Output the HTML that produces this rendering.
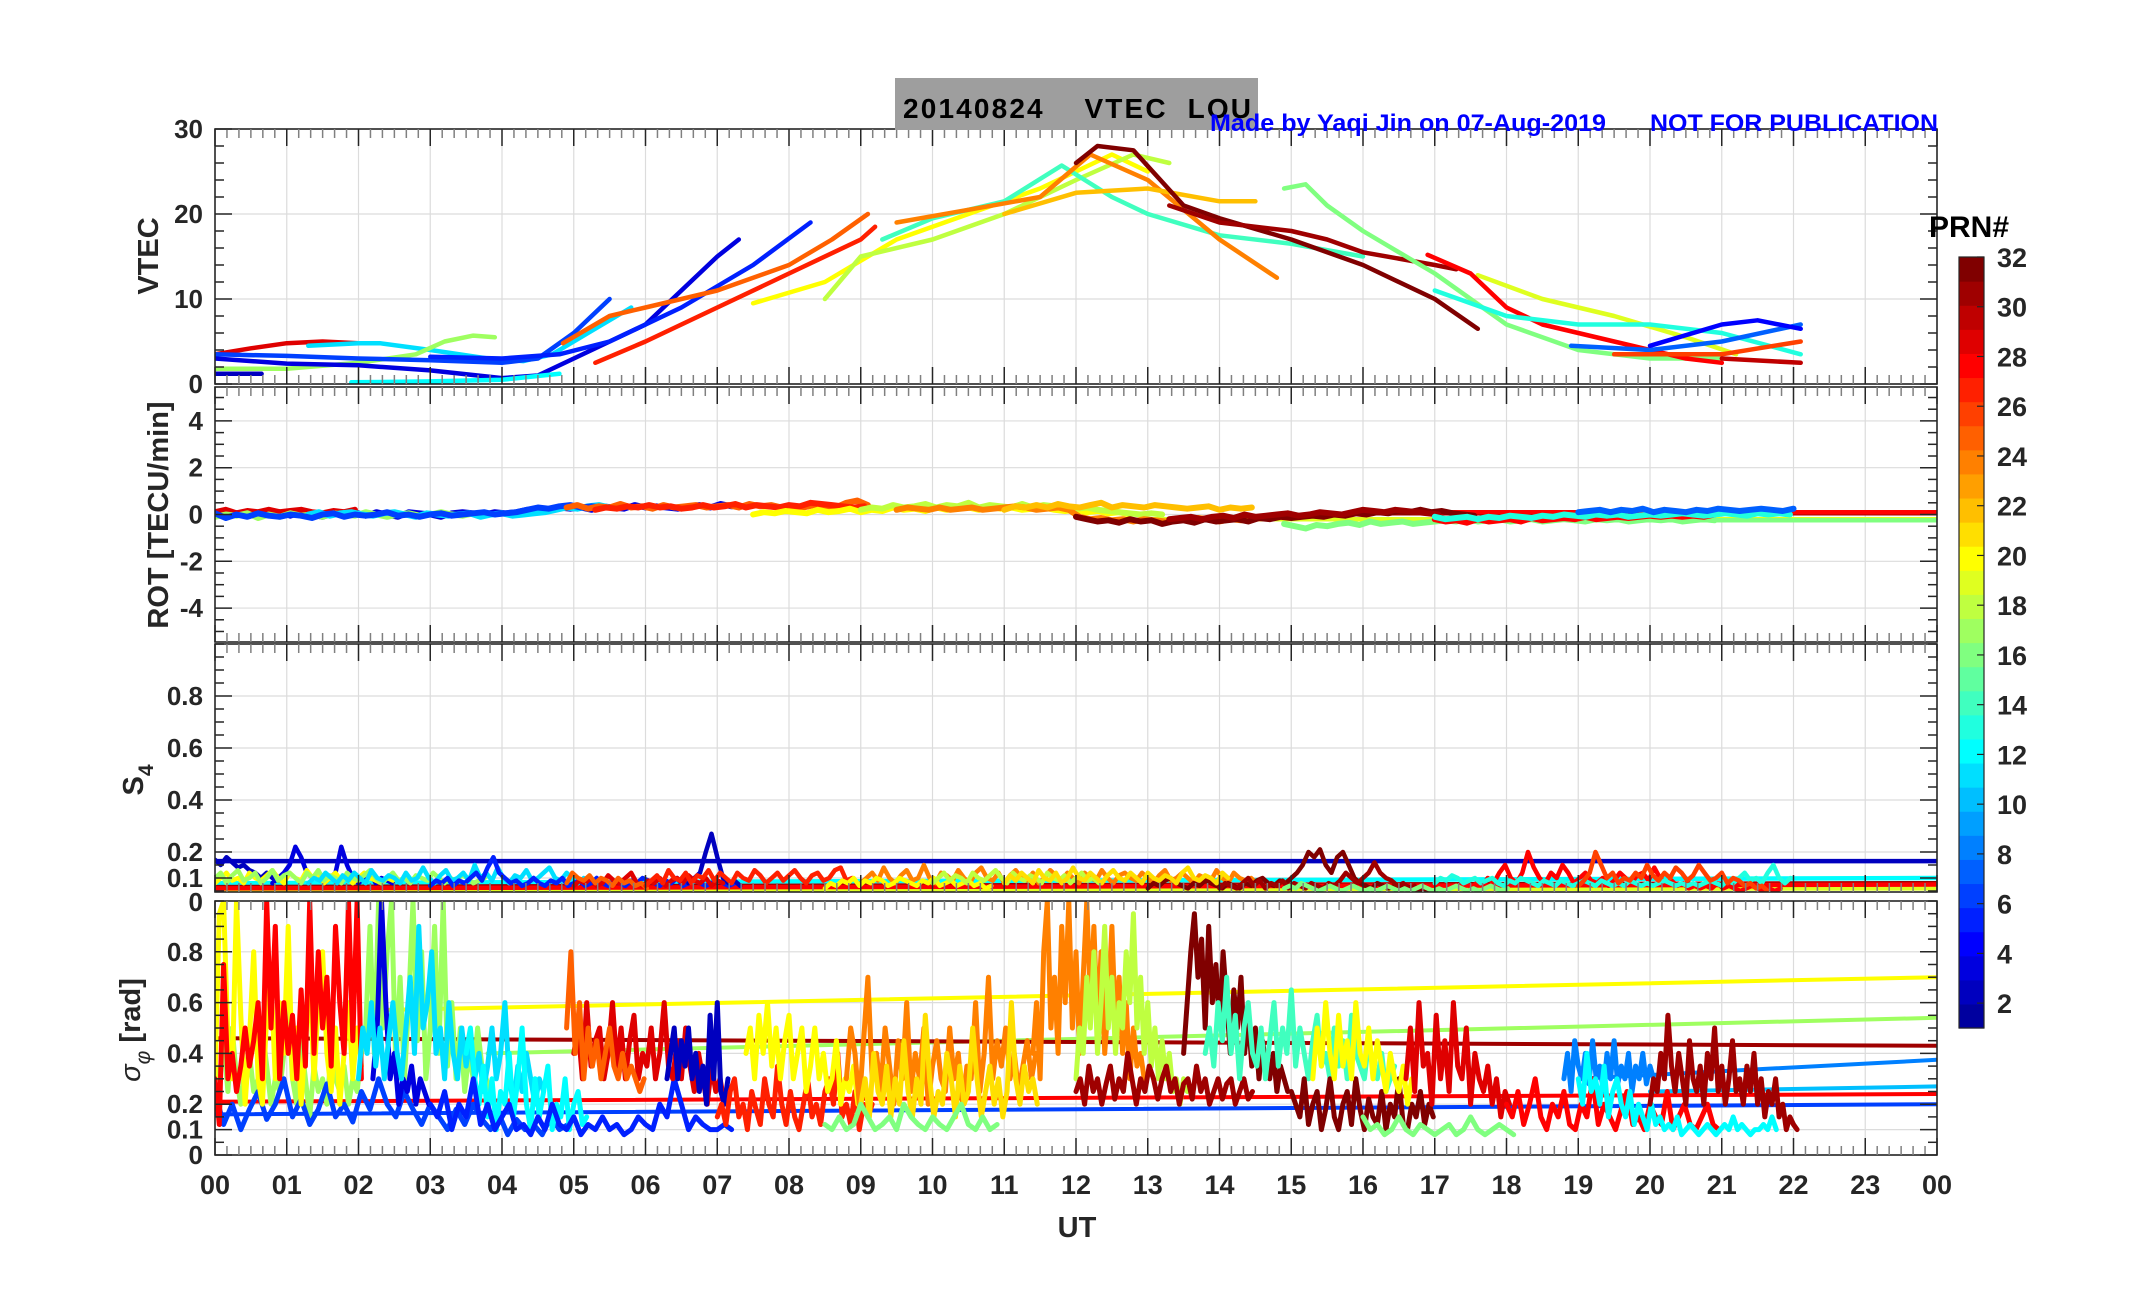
<!DOCTYPE html>
<html><head><meta charset="utf-8"><title>20140824 VTEC LOU</title>
<style>
html,body{margin:0;padding:0;background:#fff;}
svg text{font-family:"Liberation Sans",Arial,sans-serif;font-weight:bold;}
</style></head>
<body>
<svg id="fig" xmlns="http://www.w3.org/2000/svg" width="2153" height="1286" viewBox="0 0 2153 1286">
<rect x="0" y="0" width="2153" height="1286" fill="#fff"/>
<defs>
<clipPath id="c0"><rect x="215" y="129" width="1722" height="255"/></clipPath>
<clipPath id="c1"><rect x="215" y="387" width="1722" height="255"/></clipPath>
<clipPath id="c2"><rect x="215" y="644" width="1722" height="248"/></clipPath>
<clipPath id="c3"><rect x="215" y="901" width="1722" height="254"/></clipPath>
</defs>
<g id="grid"></g>
<g id="marks"></g>
<g id="axes"></g>
<rect x="895" y="78" width="363" height="52" fill="#9e9e9e"/>
<text x="903" y="118" font-size="28" fill="#000" xml:space="preserve" textLength="348" lengthAdjust="spacing">20140824    VTEC  LOU</text>
<text x="1210" y="131" font-size="24" fill="#0000ff" textLength="396" lengthAdjust="spacingAndGlyphs">Made by Yaqi Jin on 07-Aug-2019</text>
<text x="1650" y="131" font-size="24" fill="#0000ff" textLength="288" lengthAdjust="spacingAndGlyphs">NOT FOR PUBLICATION</text>
<text transform="translate(158,256) rotate(-90)" font-size="29" fill="#262626" text-anchor="middle">VTEC</text>
<text transform="translate(168,515) rotate(-90)" font-size="29" fill="#262626" text-anchor="middle">ROT [TECU/min]</text>
<text transform="translate(143,780) rotate(-90)" font-size="29" fill="#262626" text-anchor="middle">S<tspan font-size="21" dy="10">4</tspan></text>
<text transform="translate(140,1030) rotate(-90)" font-size="29" fill="#262626" text-anchor="middle"><tspan font-style="italic" font-weight="normal">σ</tspan><tspan font-size="21" dy="10" font-style="italic" font-weight="normal">φ</tspan><tspan dy="-10"> [rad]</tspan></text>
<text x="1077" y="1237" font-size="29" fill="#262626" text-anchor="middle">UT</text>
<g id="cbar"></g>
<text x="1929" y="237" font-size="30" fill="#000">PRN#</text>
</svg>
<script>
// ---------- DATA ----------
const hourTicks = ["00","01","02","03","04","05","06","07","08","09","10","11","12","13","14","15","16","17","18","19","20","21","22","23","00"];
const vtecTicks = [0,10,20,30];
const rotTicks = [-4,-2,0,2,4];
const s4Ticks = [0,0.1,0.2,0.4,0.6,0.8];
const sigTicks = [0,0.1,0.2,0.4,0.6,0.8];
const prnTicks = [2,4,6,8,10,12,14,16,18,20,22,24,26,28,30,32];

const vtecPRN = [29,11,17,6,3,2,12,5,25,27,20,18,14,24,22,32,31,16,19,28,13,7,4,26,30];
const vtecT = [
 [0,0.5,1,1.5,2,2.1],
 [1.3,2,2.3,3,3.8,4.3,4.7,5.2,5.8],
 [0,1,2,2.8,3.2,3.6,3.9],
 [0,1,2,3,4,4.5,5,5.5],
 [0,1,2,3,4,4.5,5,6,6.5,7,7.3],
 [0,0.65],
 [1.9,3,4,4.8],
 [3,4,4.8,5.5,6.5,7.5,8.3],
 [4.85,5.5,6,7,8,8.6,9.1],
 [5.3,6,7,8,9,9.2],
 [7.5,8.5,9.5,10.5,11.5,12,12.5,13],
 [8.5,9,10,11,12,12.8,13.3],
 [9.3,10,11,11.8,12.5,13,14,15,16],
 [9.5,10.5,11.5,12.2,13,14,14.8],
 [11,12,13,14,14.5],
 [12,12.3,12.8,13.5,14,15,16,17,17.6],
 [13.3,14,15,15.5,16,17,17.3],
 [14.9,15.2,15.5,16,17,18,19,20,21],
 [17.6,18.5,19.5,20.5,21.2],
 [16.9,17.5,18,18.5,19.5,20.5,21],
 [17,18,19,20,21,22.1],
 [18.9,20,21,22.1],
 [20,21,21.5,22.1],
 [19.5,21,22.1],
 [21,22.1]
];
const vtecV = [
 [3.5,4.2,4.8,5,4.8,4.8],
 [4.5,4.8,4.8,4,3,2.7,3.5,6,9],
 [1.8,1.8,2.5,3.5,5,5.7,5.5],
 [3.5,3.3,3,2.8,2.5,3,6,10],
 [3,2.4,2.2,1.6,0.7,1,3,7,11,15,17],
 [1.2,1.2],
 [0.2,0.3,0.5,1.2],
 [3.2,3,3.5,5,9,14,19],
 [4.8,8,9,11,14,17,20],
 [2.5,5,9,13,17,18.5],
 [9.5,12,17,20,23,25,27,25],
 [10,15,17,20,24,27,26],
 [17,19.5,21.5,25.7,22,20,17.5,16.5,15],
 [19,20.5,22,27,24,17,12.5],
 [20,22.5,23,21.5,21.5],
 [26,28,27.5,21,19.5,17,14,10,6.5],
 [21,19,18,17,15.5,14,13.5],
 [23,23.5,21,18,13,7,4,3,3],
 [12.8,10,8,5.5,3.5],
 [15.2,13,9,7,5,3,2.5],
 [11,8,7,7,6,3.5],
 [4.5,4,5,7],
 [4.5,7,7.5,6.5],
 [3.5,3.5,5],
 [3,2.5]
];

const rotPRN = [3,29,17,11,6,25,27,20,18,24,32,31,16,28,13,7,22];
const rotT0 = [0,0,0,1.3,0,4.9,5.3,7.5,9,9.5,12,13.3,14.9,17,17,19,11];
const rotDt = [0.15,0.15,0.15,0.15,0.15,0.15,0.15,0.15,0.15,0.15,0.15,0.15,0.15,0.15,0.15,0.15,0.15];
const rotV = [
 [0.1,-0.1,0.05,0.1,-0.1,0,0.1,-0.05,0.1,0,-0.1,0.05,0,0.1,-0.05,0.1,0,-0.1,0.1,0.05,0,-0.1,0.05,0.1,0.05,0,0.1,0.05,0.1,0.2,0.15,0.2,0.3,0.25,0.3,0.2,0.35,0.3,0.25,0.4,0.3,0.35,0.3,0.25,0.35,0.4,0.3,0.45,0.35],
 [0.1,0.2,0.05,0.15,0.1,0.2,0.1,0.15,0.2,0.1,0.05,0.15,0.1,0.2],
 [-0.1,0,-0.05,0.05,-0.15,0,-0.1,0.05,-0.05,0,-0.1,0.05,0,-0.05,0.1,0,-0.1,0,0.05,-0.05,0,0.1,0,-0.05,0.05,0],
 [0,0.1,-0.05,0.05,0.1,0,-0.05,0.05,0.1,0,-0.1,0.05,0,-0.05,0,0.05,-0.1,0,0.05,-0.05,0,0.05,0.1,0.2,0.3,0.25,0.35,0.4,0.3,0.35],
 [0.05,-0.15,0,-0.1,0.05,-0.05,-0.1,0,-0.05,-0.15,0,0.05,-0.1,0,-0.05,0,0.1,-0.05,0,-0.1,0,0.05,-0.05,0,0.05,0.1,0,0.05,0.1,0.2,0.3,0.25,0.35,0.4,0.3,0.35,0.3],
 [0.3,0.4,0.25,0.35,0.3,0.45,0.3,0.35,0.25,0.4,0.3,0.35,0.4,0.3,0.35,0.4,0.3,0.45,0.35,0.4,0.3,0.35,0.3,0.4,0.35,0.3,0.5,0.6,0.4],
 [0.2,0.3,0.25,0.35,0.3,0.4,0.3,0.35,0.25,0.3,0.4,0.3,0.35,0.45,0.3,0.4,0.35,0.3,0.4,0.35,0.5,0.45,0.4,0.35,0.3,0.35],
 [0,0.1,0.05,0.15,0.1,0.05,0.2,0.1,0.15,0.25,0.1,0.2,0.15,0.3,0.2,0.25,0.15,0.3,0.2,0.25,0.3,0.2,0.35,0.25,0.3,0.2,0.25,0.3,0.2,0.15,0.2,0.1,0.15,0.05,0.1,0],
 [0.2,0.3,0.25,0.4,0.3,0.35,0.45,0.3,0.4,0.35,0.5,0.3,0.4,0.35,0.3,0.45,0.3,0.4,0.35,0.3,0.25,0.3,0.2,0.15,0.1,0.05,0,0.05,0],
 [0.2,0.3,0.25,0.2,0.3,0.2,0.25,0.3,0.2,0.25,0.3,0.35,0.3,0.2,0.25,0.3,0.2,-0.1,-0.2,-0.15,-0.25,-0.2,-0.3,-0.2,-0.25,-0.3,-0.2,-0.25,-0.15,-0.2,-0.3,-0.2,-0.25,-0.2,-0.15],
 [-0.1,-0.2,-0.3,-0.25,-0.35,-0.2,-0.3,-0.25,-0.4,-0.3,-0.25,-0.35,-0.2,-0.3,-0.25,-0.2,-0.3,-0.15,-0.2,-0.1,-0.15,-0.1,-0.05,-0.1,0,-0.05,0.05,0,0.1,0.05,0.15,0.1,0.2,0.1,0.15,0.05,0,-0.05],
 [-0.2,-0.15,-0.1,-0.2,-0.1,-0.05,-0.15,0,-0.1,-0.05,0,0.05,-0.05,0,0.1,0.05,0,0.1,0.2,0.15,0.1,0.2,0.15,0.1,0.05,0],
 [-0.4,-0.5,-0.6,-0.45,-0.5,-0.4,-0.35,-0.45,-0.3,-0.4,-0.35,-0.3,-0.4,-0.35,-0.3,-0.25,-0.3,-0.2,-0.3,-0.25,-0.2,-0.3,-0.25,-0.2,-0.3,-0.25,-0.2,-0.25,-0.3,-0.2,-0.25,-0.2,-0.3,-0.25,-0.2,-0.25,-0.2,-0.3,-0.25,-0.2,-0.25],
 [-0.2,-0.3,-0.25,-0.35,-0.2,-0.3,-0.25,-0.2,-0.3,-0.15,-0.25,-0.2,-0.15,-0.2,-0.1,-0.2,-0.15,-0.1,-0.15,-0.1,-0.05,-0.1,-0.05,-0.1,-0.05,-0.1,0],
 [-0.1,-0.2,-0.15,-0.1,-0.2,-0.1,-0.15,-0.05,-0.1,-0.15,-0.05,-0.1,0,-0.05,-0.1,0,-0.05,0,-0.1,-0.05,0,-0.05,0,0.05,0,-0.05,0,0.05,0,-0.05,0.05,0,0.05,0],
 [0.1,0.15,0.2,0.1,0.2,0.15,0.25,0.1,0.2,0.15,0.1,0.2,0.15,0.25,0.2,0.15,0.2,0.25,0.2,0.15,0.25],
 [0.2,0.35,0.3,0.4,0.3,0.45,0.35,0.3,0.4,0.5,0.3,0.4,0.35,0.3,0.4,0.35,0.3,0.25,0.3,0.35,0.2,0.3,0.25,0.3]
];
const rotLinePRN = [31,28,19,16];
const rotLineT0 = [16,17,13,19];
const rotLineV0 = [0.05,0.1,-0.2,-0.25];
const rotLineT1 = [24,24,24,24];
const rotLineV1 = [0.05,0.1,-0.2,-0.25];

const s4PRN = [2,3,20,17,11,5,2,29,25,27,24,20,18,32,31,28,16,13,26,21];
const s4T0 = [0,0.8,0,0,1.3,3,6.6,5,4.9,6,9,8.5,10,13,14,17.5,14.9,17,19,11];
const s4Dt = [0.08,0.08,0.08,0.08,0.08,0.08,0.08,0.08,0.08,0.08,0.08,0.08,0.08,0.08,0.08,0.08,0.08,0.08,0.08,0.08];
const s4V = [
 [0.17,0.15,0.18,0.16,0.14,0.15,0.13,0.12,0.1,0.12,0.1,0.09],
 [0.08,0.1,0.12,0.15,0.22,0.18,0.12,0.1,0.12,0.08,0.1,0.12,0.22,0.15,0.1,0.08,0.1,0.12,0.08,0.1,0.09,0.08],
 [0.08,0.1,0.12,0.09,0.1,0.08,0.12,0.1,0.09,0.11,0.13,0.1,0.08,0.12,0.1,0.09,0.13,0.1,0.12,0.08,0.1,0.12,0.09,0.1,0.08,0.1,0.12,0.1,0.09,0.08,0.1,0.09],
 [0.1,0.12,0.08,0.11,0.13,0.09,0.1,0.12,0.08,0.1,0.13,0.09,0.11,0.12,0.1,0.08,0.12,0.1,0.13,0.09,0.11,0.1,0.08,0.12,0.1,0.09,0.11,0.13,0.1,0.08,0.1,0.12,0.09,0.1,0.08,0.11,0.1,0.09,0.12,0.1,0.08,0.1,0.09,0.11,0.1,0.08,0.09,0.1],
 [0.08,0.1,0.09,0.12,0.1,0.08,0.11,0.09,0.12,0.1,0.08,0.13,0.1,0.09,0.11,0.1,0.08,0.12,0.09,0.1,0.14,0.1,0.08,0.11,0.13,0.09,0.1,0.12,0.09,0.15,0.1,0.12,0.09,0.14,0.1,0.08,0.11,0.1,0.13,0.09,0.1,0.12,0.14,0.1,0.09,0.12,0.1,0.08,0.1,0.09],
 [0.07,0.09,0.08,0.1,0.07,0.09,0.08,0.1,0.12,0.09,0.14,0.18,0.12,0.1,0.08,0.09,0.07,0.08,0.1,0.08,0.07,0.09,0.08,0.1,0.07,0.08,0.09,0.07,0.08,0.1,0.08,0.07,0.09,0.08,0.07,0.09,0.08,0.1,0.09,0.08,0.07,0.09,0.08,0.1,0.07,0.08,0.09,0.08,0.07,0.08,0.09,0.08,0.07,0.08],
 [0.08,0.1,0.12,0.2,0.27,0.18,0.1,0.08,0.09,0.07],
 [0.07,0.09,0.08,0.1,0.07,0.08,0.11,0.09,0.08,0.1,0.12,0.08,0.07,0.09,0.08,0.1,0.07,0.09,0.1,0.08,0.11,0.09,0.08,0.1,0.07,0.09,0.08],
 [0.08,0.12,0.1,0.09,0.11,0.08,0.1,0.09,0.07,0.1,0.08,0.09,0.07,0.08,0.06],
 [0.07,0.09,0.11,0.08,0.13,0.1,0.09,0.12,0.08,0.11,0.1,0.13,0.09,0.12,0.1,0.08,0.12,0.1,0.09,0.13,0.11,0.08,0.1,0.12,0.09,0.11,0.13,0.1,0.08,0.11,0.12,0.09,0.1,0.13,0.14,0.09,0.1],
 [0.08,0.1,0.12,0.09,0.14,0.1,0.08,0.11,0.13,0.09,0.1,0.15,0.1,0.08,0.12,0.11,0.09,0.13,0.1,0.08,0.12,0.14,0.1,0.09,0.12,0.08,0.11,0.13,0.1,0.09,0.12,0.08,0.1,0.13,0.11,0.09,0.12,0.1,0.08,0.12,0.1,0.09,0.13,0.1,0.08,0.11,0.12,0.1,0.09,0.12,0.1,0.08,0.11,0.13,0.09,0.1,0.12,0.1,0.08,0.11,0.1,0.09,0.13,0.1,0.08,0.12,0.1,0.09,0.1,0.08],
 [0.06,0.08,0.07,0.09,0.08,0.1,0.07,0.09,0.08,0.1,0.09,0.07,0.08,0.1,0.09,0.08,0.07,0.09,0.08,0.1,0.07,0.08,0.09,0.07,0.08,0.09,0.07,0.08,0.06,0.07],
 [0.08,0.1,0.12,0.09,0.11,0.1,0.08,0.12,0.1,0.09,0.11,0.13,0.1,0.08,0.12,0.1,0.09,0.11,0.1,0.08,0.12,0.1,0.09,0.11,0.08,0.1,0.12,0.09,0.1,0.08],
 [0.06,0.08,0.07,0.09,0.1,0.08,0.07,0.06,0.08,0.07,0.09,0.08,0.07,0.06,0.08,0.07,0.06,0.08,0.07,0.09,0.1,0.08,0.07,0.09,0.08,0.1,0.12,0.15,0.2,0.18,0.21,0.15,0.12,0.18,0.2,0.15,0.1,0.08,0.07,0.06,0.08,0.07,0.06,0.07,0.06,0.07,0.06,0.05,0.06,0.05],
 [0.06,0.08,0.07,0.06,0.08,0.1,0.07,0.09,0.06,0.08,0.07,0.09,0.06,0.08,0.07,0.06,0.08,0.07,0.06,0.08,0.07,0.09,0.12,0.1,0.08,0.1,0.12,0.16,0.12,0.1,0.09,0.07,0.08,0.06,0.07],
 [0.06,0.08,0.07,0.1,0.08,0.12,0.15,0.1,0.08,0.12,0.2,0.14,0.1,0.08,0.12,0.1,0.15,0.12,0.08,0.1,0.12,0.09,0.08,0.1,0.07,0.09,0.12,0.1,0.08,0.11,0.12,0.09,0.14,0.1,0.08,0.09,0.07,0.08,0.06,0.07,0.06,0.07,0.06,0.08,0.06,0.07,0.06,0.05,0.06,0.07,0.06,0.05,0.06,0.05,0.06],
 [0.06,0.07,0.06,0.08,0.07,0.06,0.05,0.06,0.07,0.06,0.05,0.06,0.07,0.06,0.05,0.06,0.05,0.06,0.07,0.06,0.05,0.06,0.05,0.06,0.07,0.06,0.05,0.06,0.05,0.06,0.07,0.06,0.05,0.06,0.05,0.06,0.07,0.06,0.05,0.06],
 [0.08,0.1,0.09,0.11,0.1,0.08,0.09,0.1,0.08,0.09,0.1,0.08,0.07,0.09,0.08,0.1,0.09,0.08,0.07,0.09,0.08,0.07,0.09,0.08,0.07,0.08,0.09,0.08,0.07,0.09,0.08,0.07,0.08,0.07,0.09,0.08,0.07,0.08,0.07,0.08,0.09,0.08,0.07,0.08,0.07,0.08,0.07,0.08,0.09,0.08,0.07,0.09,0.08,0.1,0.12,0.09,0.1,0.08,0.12,0.15,0.1,0.08,0.1],
 [0.07,0.09,0.12,0.2,0.15,0.1,0.12,0.08,0.1,0.09,0.12,0.1,0.15,0.11,0.09,0.12,0.1,0.14,0.12,0.09,0.11,0.15,0.12,0.09,0.1,0.12,0.08,0.1,0.09,0.07,0.08,0.06,0.07,0.05],
 [0.08,0.11,0.09,0.12,0.1,0.08,0.13,0.1,0.09,0.12,0.08,0.1,0.14,0.1,0.09,0.12,0.1,0.08,0.11,0.13,0.1,0.09,0.12,0.1,0.08,0.12,0.1,0.09,0.11,0.1,0.08,0.12,0.14,0.1,0.09,0.11,0.1,0.08,0.12,0.1]
];
const s4LinePRN = [2,12,19,31,28];
const s4LineT0 = [0,0,0,0,0];
const s4LineV0 = [0.165,0.08,0.055,0.065,0.06];
const s4LineT1 = [24,24,24,24,24];
const s4LineV1 = [0.165,0.1,0.06,0.08,0.075];

const sigPRN = [17,6,20,28,3,11,12,5,29,25,2,27,20,24,21,16,24,18,31,32,14,32,20,16,29,28,8,12,31];
const sigT0 = [0,0,0,0,2.2,2.0,3.5,3.0,5.0,4.9,6.3,7.0,7.4,8.8,9.0,8.5,11.4,12.0,12.0,13.5,13.8,15.0,15.3,16.0,16.6,18.0,18.8,19.0,20.0];
const sigDt = [0.06,0.12,0.06,0.06,0.06,0.06,0.06,0.1,0.06,0.06,0.05,0.06,0.06,0.06,0.06,0.1,0.05,0.05,0.06,0.05,0.06,0.06,0.06,0.1,0.06,0.08,0.05,0.06,0.05];
const sigV = [
 [0.35,0.3,0.45,0.25,0.5,0.3,0.2,0.35,0.4,0.25,0.3,0.5,0.35,0.2,0.3,0.25,0.4,0.6,0.3,0.2,0.45,0.3,0.15,0.35,0.25,0.3,0.2,0.4,0.3,0.25,0.35,0.2,0.3,0.25,0.4,0.5,0.9,0.4,1,0.5,0.8,1,0.35,0.7,0.3,0.6,1,0.45,0.8,0.3,0.5,0.9,0.4,1,0.35,0.6,0.3,0.5,0.25,0.4,0.3,0.5,0.35,0.3,0.25],
 [0.25,0.12,0.2,0.1,0.18,0.25,0.14,0.2,0.3,0.15,0.22,0.12,0.18,0.28,0.15,0.2,0.13,0.25,0.18,0.3,0.2,0.15,0.25,0.18,0.12,0.2,0.15,0.1,0.18,0.12,0.2,0.14,0.1,0.16,0.08,0.14,0.1,0.12,0.08,0.15,0.1,0.12],
 [0.3,0.95,1,0.45,0.3,1,0.55,0.2,0.45,0.8,0.3,0.2,0.55,0.7,0.3,0.6,0.4,0.9,0.3,0.5,0.2,0.45,0.7,0.3,0.6,0.8,0.4,0.25,0.5,0.2,0.4,0.6,0.3,0.5,0.35],
 [0.3,0.12,0.75,0.3,0.4,0.25,0.35,0.5,0.35,0.45,0.6,0.3,1,0.5,0.9,0.3,0.6,0.4,0.55,0.3,0.65,0.35,1,0.4,0.8,0.5,0.7,0.35,0.9,0.6,0.4,1,0.45,1,0.3],
 [0.3,0.5,1,0.6,0.3,0.4,0.2,0.3,0.25,0.35,0.2,0.3,0.25,0.2],
 [0.3,0.5,0.4,0.6,0.35,0.5,0.3,0.45,0.6,0.4,0.3,0.5,0.7,0.4,0.9,0.5,0.6,0.8,0.4,0.5,0.3,0.6,0.4,0.3,0.5,0.35,0.45,0.3,0.4,0.25,0.35,0.5,0.3,0.4,0.6,0.3,0.2,0.35,0.25,0.4,0.3,0.2,0.3,0.25],
 [0.4,0.5,0.3,0.2,0.35,0.15,0.3,0.1,0.25,0.2,0.4,0.15,0.3,0.5,0.2,0.1,0.3,0.15,0.25,0.35,0.1,0.2,0.15,0.3,0.1,0.2,0.25,0.12,0.15],
 [0.2,0.15,0.25,0.1,0.2,0.15,0.3,0.12,0.2,0.1,0.15,0.2,0.1,0.12,0.08,0.15,0.1,0.2,0.12,0.1,0.15,0.08,0.12,0.1,0.15,0.1,0.12,0.08,0.1,0.15,0.12,0.1,0.2,0.15,0.3,0.2,0.1,0.15,0.12,0.1,0.1,0.12,0.1],
 [0.4,0.5,0.3,0.6,0.35,0.45,0.5,0.3,0.4,0.6,0.35,0.5,0.3,0.45,0.55,0.3,0.4,0.35,0.5,0.3,0.4,0.6,0.35,0.3,0.45,0.3,0.5,0.35,0.25,0.4,0.3,0.2,0.35,0.25,0.3,0.2,0.25],
 [0.5,0.8,0.4,0.6,0.3,0.5,0.35,0.45,0.3,0.4,0.5,0.35,0.3,0.4,0.3,0.35,0.3,0.25,0.3],
 [0.3,0.4,0.5,0.3,0.45,0.35,0.5,0.3,0.4,0.25,0.35,0.2,0.55,0.3,0.6,0.25,0.2,0.3],
 [0.15,0.2,0.12,0.25,0.3,0.15,0.2,0.1,0.25,0.18,0.12,0.3,0.2,0.15,0.35,0.2,0.12,0.25,0.15,0.1,0.2,0.3,0.15,0.2,0.12,0.25,0.3,0.2,0.4,0.15,0.2,0.12,0.25,0.1,0.2,0.15,0.2],
 [0.4,0.5,0.3,0.55,0.4,0.6,0.35,0.5,0.3,0.45,0.55,0.3,0.4,0.5,0.25,0.35,0.5,0.3,0.4,0.25,0.3,0.45,0.2,0.3,0.25,0.35,0.2],
 [0.3,0.5,0.4,0.2,0.45,0.7,0.3,0.4,0.25,0.5,0.35,0.2,0.45,0.3,0.6,0.25,0.4,0.3,0.5,0.2,0.35,0.45,0.3,0.25,0.5,0.3,0.4,0.2,0.35,0.3,0.6,0.25,0.4,0.7,0.3,0.45,0.35,0.5,0.3,0.4,0.25,0.35,0.45,0.3,0.4],
 [0.2,0.3,0.15,0.4,0.25,0.2,0.35,0.15,0.3,0.2,0.45,0.25,0.15,0.3,0.2,0.55,0.3,0.15,0.25,0.2,0.4,0.3,0.15,0.35,0.2,0.25,0.5,0.3,0.15,0.25,0.35,0.2,0.3,0.15,0.25,0.6,0.3,0.2,0.35,0.25,0.3,0.2],
 [0.12,0.1,0.15,0.1,0.12,0.2,0.15,0.1,0.12,0.15,0.1,0.2,0.15,0.12,0.1,0.15,0.12,0.1,0.15,0.2,0.12,0.1,0.15,0.1,0.12],
 [0.4,0.6,0.3,0.8,1,0.5,0.7,0.4,0.9,0.6,1,0.5,0.8,0.4,0.7,1,0.6,0.9,0.5,0.8,0.4,0.6,0.9,0.5,0.7,0.4,0.6,0.3,0.5,0.35,0.4,0.3],
 [0.3,0.5,0.4,0.7,0.5,0.8,0.4,0.6,0.9,0.5,0.7,0.4,0.6,0.5,0.8,0.6,0.95,0.5,0.7,0.4,0.6,0.35,0.5,0.3,0.45,0.3,0.4,0.25,0.3,0.2,0.3,0.25],
 [0.25,0.3,0.2,0.35,0.25,0.3,0.2,0.28,0.35,0.22,0.3,0.25,0.4,0.3,0.2,0.3,0.25,0.35,0.3,0.22,0.3,0.35,0.25,0.3,0.2,0.28,0.3,0.22,0.35,0.25,0.3,0.2,0.25,0.3,0.22,0.28,0.3,0.2,0.25,0.3,0.22,0.25],
 [0.4,0.6,0.8,0.95,0.7,0.85,0.5,0.9,0.6,0.75,0.5,0.8,0.6,0.4,0.65,0.5,0.7,0.4,0.55,0.35,0.5,0.3,0.45,0.35,0.3,0.4,0.25,0.35,0.3,0.25],
 [0.4,0.5,0.35,0.6,0.45,0.7,0.4,0.55,0.3,0.5,0.6,0.4,0.35,0.5,0.3,0.45,0.6,0.35,0.5,0.4,0.65,0.35,0.5,0.4,0.3,0.45,0.55,0.35,0.4,0.3,0.5,0.35,0.45,0.3,0.55,0.4,0.35,0.3,0.45,0.35,0.3,0.4,0.25,0.3,0.35],
 [0.25,0.2,0.15,0.3,0.12,0.2,0.25,0.1,0.18,0.3,0.15,0.1,0.2,0.25,0.12,0.3,0.18,0.1,0.22,0.15,0.12,0.25,0.1,0.2,0.15,0.3,0.12,0.1,0.2,0.15,0.25,0.12,0.2,0.15],
 [0.3,0.5,0.35,0.6,0.4,0.3,0.55,0.35,0.45,0.3,0.6,0.4,0.35,0.5,0.3,0.45,0.35,0.25,0.4,0.3,0.25,0.35,0.2,0.3],
 [0.15,0.1,0.12,0.08,0.1,0.15,0.1,0.08,0.12,0.1,0.08,0.1,0.12,0.08,0.1,0.15,0.1,0.08,0.1,0.12,0.1,0.08],
 [0.3,0.5,0.25,0.6,0.35,0.4,0.2,0.55,0.3,0.45,0.25,0.6,0.35,0.3,0.5,0.2,0.4,0.3,0.25,0.35,0.2,0.3,0.15,0.25,0.2],
 [0.2,0.15,0.25,0.12,0.2,0.3,0.15,0.1,0.2,0.15,0.25,0.12,0.1,0.2,0.15,0.3,0.12,0.2,0.15,0.1,0.18,0.25,0.12,0.15,0.1,0.2,0.15,0.12,0.25,0.1,0.15,0.2,0.12,0.1,0.15,0.2,0.12,0.1],
 [0.3,0.4,0.25,0.45,0.35,0.3,0.4,0.28,0.45,0.3,0.35,0.25,0.4,0.3,0.45,0.28,0.35,0.3,0.4,0.25,0.35,0.3,0.4,0.28,0.35,0.3],
 [0.3,0.2,0.4,0.25,0.3,0.2,0.35,0.15,0.25,0.3,0.2,0.15,0.25,0.12,0.2,0.15,0.1,0.2,0.12,0.15,0.1,0.12,0.1,0.15,0.08,0.1,0.12,0.1,0.08,0.1,0.12,0.1,0.08,0.1,0.12,0.1,0.15,0.1,0.12,0.1,0.08,0.1,0.1,0.12,0.1,0.15,0.1],
 [0.2,0.3,0.25,0.4,0.3,0.55,0.35,0.25,0.4,0.3,0.2,0.45,0.3,0.25,0.35,0.2,0.4,0.3,0.5,0.25,0.35,0.2,0.3,0.45,0.25,0.3,0.2,0.35,0.25,0.4,0.2,0.3,0.15,0.25,0.2,0.3,0.15,0.2,0.1,0.15,0.12,0.1]
];
const sigLinePRN = [20,17,31,28,6,8,10];
const sigLineT0 = [2.2,3.8,0,0,0,19,20];
const sigLineV0 = [0.57,0.40,0.46,0.21,0.16,0.30,0.25];
const sigLineT1 = [24,24,24,24,24,24,24];
const sigLineV1 = [0.70,0.54,0.43,0.24,0.20,0.375,0.27];

// ---------- RENDERING ----------
const NS = "http://www.w3.org/2000/svg";
const X0 = 215, X1 = 1937;
function xs(h){ return X0 + h*(X1-X0)/24; }
const panels = [
 {top:129,bottom:384,min:0,max:30,clip:"c0"},
 {top:387,bottom:642,min:-5.45,max:5.45,clip:"c1"},
 {top:644,bottom:892,min:0.04615,max:1,clip:"c2"},
 {top:901,bottom:1155,min:0,max:1,clip:"c3"}
];
function ys(p,v){ return p.bottom-(v-p.min)/(p.max-p.min)*(p.bottom-p.top); }

function jet(m){
  const n=Math.ceil(m/4), u=[];
  for(let i=1;i<=n;i++) u.push(i/n);
  for(let i=0;i<n-1;i++) u.push(1);
  for(let i=n;i>=1;i--) u.push(i/n);
  const g0=Math.ceil(n/2)-(m%4===1?1:0);
  const R=new Array(m).fill(0),G=new Array(m).fill(0),B=new Array(m).fill(0);
  for(let k=0;k<u.length;k++){
    const gi=g0+k+1, ri=gi+n, bi=gi-n;
    if(gi>=1&&gi<=m) G[gi-1]=u[k];
    if(ri>=1&&ri<=m) R[ri-1]=u[k];
    if(bi>=1&&bi<=m) B[bi-1]=u[k];
  }
  const out=[];
  for(let i=0;i<m;i++) out.push(`rgb(${Math.round(R[i]*255)},${Math.round(G[i]*255)},${Math.round(B[i]*255)})`);
  return out;
}
const cmap = jet(32);
function col(prn){ return cmap[Math.max(1,Math.min(32,prn))-1]; }

const gGrid=document.getElementById('grid'), gMarks=document.getElementById('marks'), gAxes=document.getElementById('axes'), gCb=document.getElementById('cbar');
function mk(tag,attrs,parent){ const e=document.createElementNS(NS,tag); for(const k in attrs) e.setAttribute(k,attrs[k]); parent.appendChild(e); return e; }

const panelNames=['vtec','rot','s4','sigma-phi'];
const panelTicks=[vtecTicks,rotTicks,s4Ticks,sigTicks];
const panelMinor=[2,0.5,0.05,0.05];

panels.forEach((p,pi)=>{
  for(let h=1;h<24;h++){
    const l=mk('line',{x1:xs(h),x2:xs(h),y1:p.top,y2:p.bottom,stroke:'#dcdcdc','stroke-width':1.2},gGrid);
    
    
  }
  panelTicks[pi].forEach(v=>{
    const y=ys(p,v); if(y<p.top-1||y>p.bottom+1) return;
    const l=mk('line',{x1:X0,x2:X1,y1:y,y2:y,stroke:'#dcdcdc','stroke-width':1.2},gGrid);
    
    
  });
  const fr=mk('rect',{x:X0,y:p.top,width:X1-X0,height:p.bottom-p.top,fill:'none',stroke:'#262626','stroke-width':1.6},gAxes);
  
  
  for(let m=0;m<=144;m++){
    const x=xs(m/6), major=(m%6===0), len=major?17:9, c=major?'#262626':'#808080';
    mk('line',{x1:x,x2:x,y1:p.top,y2:p.top+len,stroke:c,'stroke-width':1.5},gAxes);
    mk('line',{x1:x,x2:x,y1:p.bottom,y2:p.bottom-len,stroke:c,'stroke-width':1.5},gAxes);
  }
  const st=panelMinor[pi];
  for(let v=Math.ceil(p.min/st)*st; v<=p.max+1e-9; v+=st){
    const y=ys(p,v);
    const isMaj=panelTicks[pi].some(t=>Math.abs(t-v)<1e-6);
    const len=isMaj?17:9;
    mk('line',{x1:X0,x2:X0+len,y1:y,y2:y,stroke:'#262626','stroke-width':1.5},gAxes);
    mk('line',{x1:X1,x2:X1-len,y1:y,y2:y,stroke:'#262626','stroke-width':1.5},gAxes);
  }
  panelTicks[pi].forEach(v=>{
    let y=ys(p,v);
    if(pi===2 && v===0) y=p.bottom+10;
    const t=mk('text',{x:203,y:y+9,'font-size':26,fill:'#262626','text-anchor':'end'},gAxes);
    t.textContent=String(v);
    
    
  });
});
hourTicks.forEach((lab,i)=>{
  const t=mk('text',{x:xs(i),y:1194,'font-size':27,fill:'#262626','text-anchor':'middle'},gAxes);
  t.textContent=lab;
  
  
});

function drawPts(p,pts,prn,w,name){
  const g=mk('polyline',{points:pts.map(a=>a[0].toFixed(1)+','+a[1].toFixed(1)).join(' '),fill:'none',stroke:col(prn),'stroke-width':w,'stroke-linejoin':'round','stroke-linecap':'round','clip-path':`url(#${p.clip})`},gMarks);
  
  
}
vtecPRN.forEach((prn,i)=>{
  const pts=vtecT[i].map((t,k)=>[xs(t),ys(panels[0],vtecV[i][k])]);
  drawPts(panels[0],pts,prn,4.5,'vtec-line-prn'+prn);
});
function drawSeries(pi,PRN,T0,DT,V,w,name){
  PRN.forEach((prn,i)=>{
    const pts=V[i].map((v,k)=>[xs(T0[i]+k*DT[i]),ys(panels[pi],v)]);
    drawPts(panels[pi],pts,prn,w,name+'-prn'+prn);
  });
}
function drawLines(pi,PRN,T0,V0,T1,V1,w,name){
  PRN.forEach((prn,i)=>{
    drawPts(panels[pi],[[xs(T0[i]),ys(panels[pi],V0[i])],[xs(T1[i]),ys(panels[pi],V1[i])]],prn,w,name+'-prn'+prn);
  });
}
drawLines(1,rotLinePRN,rotLineT0,rotLineV0,rotLineT1,rotLineV1,4.5,'rot-baseline');
drawSeries(1,rotPRN,rotT0,rotDt,rotV,6,'rot-line');
drawLines(2,s4LinePRN,s4LineT0,s4LineV0,s4LineT1,s4LineV1,4.5,'s4-baseline');
drawSeries(2,s4PRN,s4T0,s4Dt,s4V,4.5,'s4-line');
drawLines(3,sigLinePRN,sigLineT0,sigLineV0,sigLineT1,sigLineV1,4,'sigma-baseline');
drawSeries(3,sigPRN,sigT0,sigDt,sigV,5,'sigma-line');

const CB={x:1959,w:25,top:257,bottom:1028,cmin:1,cmax:32};
const band=(CB.bottom-CB.top)/32;
for(let i=0;i<32;i++){
  const r=mk('rect',{x:CB.x,y:CB.bottom-(i+1)*band,width:CB.w,height:band+0.6,fill:cmap[i]},gCb);
  
  
}
mk('rect',{x:CB.x,y:CB.top,width:CB.w,height:CB.bottom-CB.top,fill:'none',stroke:'#262626','stroke-width':1.2},gCb);
prnTicks.forEach(v=>{
  const y=CB.top+(CB.cmax-v)/(CB.cmax-CB.cmin)*(CB.bottom-CB.top);
  mk('line',{x1:CB.x+CB.w-7,x2:CB.x+CB.w,y1:y,y2:y,stroke:'#262626','stroke-width':1.2},gCb);
  const t=mk('text',{x:1997,y:y+10,'font-size':27,fill:'#262626'},gCb);
  t.textContent=String(v);
  
  
});
</script>
</body></html>
